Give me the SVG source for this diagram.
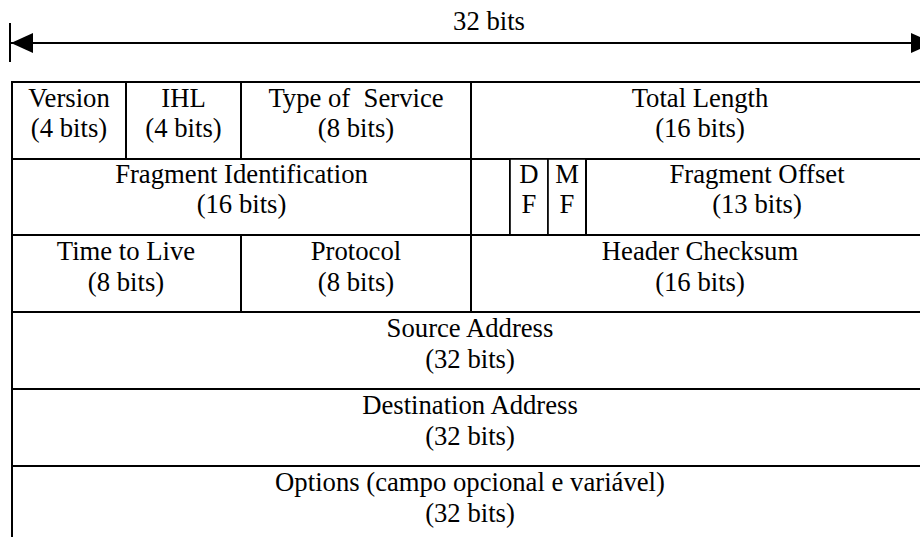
<svg xmlns="http://www.w3.org/2000/svg" width="920" height="537" viewBox="0 0 920 537">
  <style>
    .cell { fill: #fff; stroke: #000; stroke-width: 2; }
    .thin { stroke: #000; stroke-width: 1.6; fill: none; }
    .lbl { font-family: "Liberation Serif", "Times New Roman", serif; font-size: 26.7px; fill: #000; text-anchor: middle; }
  </style>
  <defs>
    <marker id="arrow" viewBox="0 0 22 20" refX="22" refY="10" markerWidth="22" markerHeight="20" markerUnits="userSpaceOnUse" orient="auto-start-reverse">
      <path d="M0,0 L22,10 L0,20 Z" fill="#000"/>
    </marker>
  </defs>
  <rect width="920" height="537" fill="#fff"/>

  <!-- width dimension: 32 bits -->
  <g id="connectors">
    <line x1="10" y1="23" x2="10" y2="62" stroke="#000" stroke-width="2"/>
    <line x1="11" y1="43" x2="933" y2="43" stroke="#000" stroke-width="2" marker-start="url(#arrow)" marker-end="url(#arrow)"/>
  </g>
  <text class="lbl" x="489" y="30">32 bits</text>

  <!-- row 1 -->
  <g id="version">
    <rect class="cell" x="12" y="82" width="114" height="77"/>
    <text class="lbl" x="69" y="107">Version</text>
    <text class="lbl" x="69" y="137">(4 bits)</text>
  </g>
  <g id="ihl">
    <rect class="cell" x="126" y="82" width="115" height="77"/>
    <text class="lbl" x="183.5" y="107">IHL</text>
    <text class="lbl" x="183.5" y="137">(4 bits)</text>
  </g>
  <g id="tos">
    <rect class="cell" x="241" y="82" width="230" height="77"/>
    <text class="lbl" x="356" y="107" xml:space="preserve">Type of  Service</text>
    <text class="lbl" x="356" y="137">(8 bits)</text>
  </g>
  <g id="total-length">
    <rect class="cell" x="471" y="82" width="460" height="77"/>
    <text class="lbl" x="700" y="107">Total Length</text>
    <text class="lbl" x="700" y="137">(16 bits)</text>
  </g>

  <!-- row 2 -->
  <g id="fragment-id">
    <rect class="cell" x="12" y="159" width="459" height="76"/>
    <text class="lbl" x="241.5" y="183">Fragment Identification</text>
    <text class="lbl" x="241.5" y="213">(16 bits)</text>
  </g>
  <g id="reserved">
    <rect class="cell" x="471" y="159" width="39" height="76"/>
  </g>
  <g id="df">
    <rect class="cell" x="510" y="159" width="38" height="76" style="stroke-width:1.6"/>
    <text class="lbl" x="529" y="183">D</text>
    <text class="lbl" x="529" y="213">F</text>
  </g>
  <g id="mf">
    <rect class="cell" x="548" y="159" width="38" height="76" style="stroke-width:1.6"/>
    <text class="lbl" x="567" y="183">M</text>
    <text class="lbl" x="567" y="213">F</text>
  </g>
  <g id="fragment-offset">
    <rect class="cell" x="586" y="159" width="345" height="76"/>
    <text class="lbl" x="757" y="183">Fragment Offset</text>
    <text class="lbl" x="757" y="213">(13 bits)</text>
  </g>

  <!-- row 3 -->
  <g id="ttl">
    <rect class="cell" x="12" y="235" width="229" height="77"/>
    <text class="lbl" x="126" y="260">Time to Live</text>
    <text class="lbl" x="126" y="291">(8 bits)</text>
  </g>
  <g id="protocol">
    <rect class="cell" x="241" y="235" width="230" height="77"/>
    <text class="lbl" x="356" y="260">Protocol</text>
    <text class="lbl" x="356" y="291">(8 bits)</text>
  </g>
  <g id="checksum">
    <rect class="cell" x="471" y="235" width="460" height="77"/>
    <text class="lbl" x="700" y="260">Header Checksum</text>
    <text class="lbl" x="700" y="291">(16 bits)</text>
  </g>

  <!-- row 4 -->
  <g id="source">
    <rect class="cell" x="12" y="312" width="919" height="77"/>
    <text class="lbl" x="470" y="337">Source Address</text>
    <text class="lbl" x="470" y="368">(32 bits)</text>
  </g>

  <!-- row 5 -->
  <g id="destination">
    <rect class="cell" x="12" y="389" width="919" height="77"/>
    <text class="lbl" x="470" y="414">Destination Address</text>
    <text class="lbl" x="470" y="445">(32 bits)</text>
  </g>

  <!-- row 6: open at the bottom -->
  <g id="options">
    <rect class="cell" x="12" y="466" width="919" height="90"/>
    <text class="lbl" x="470" y="491">Options (campo opcional e variável)</text>
    <text class="lbl" x="470" y="522">(32 bits)</text>
  </g>
</svg>
